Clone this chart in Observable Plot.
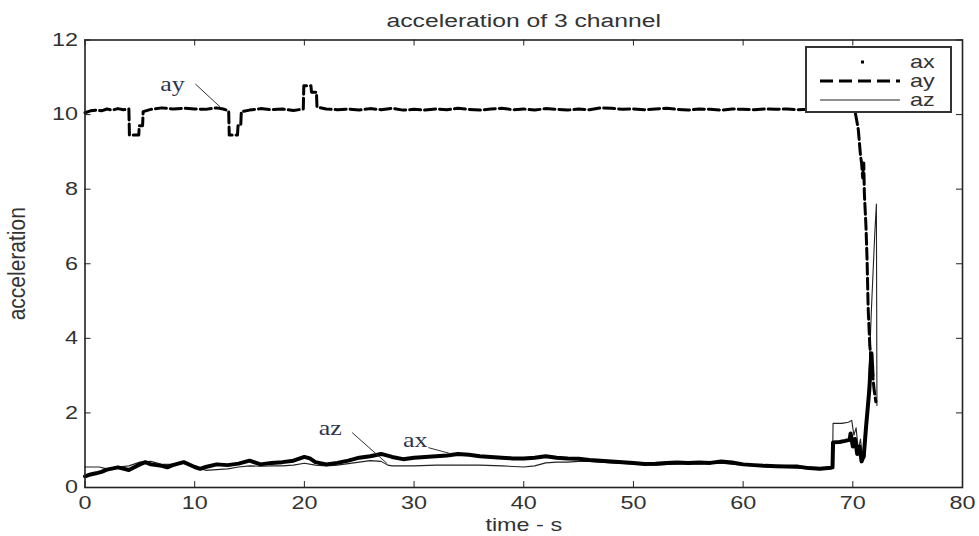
<!DOCTYPE html>
<html><head><meta charset="utf-8">
<script src="https://cdn.jsdelivr.net/npm/d3@7"></script>
<script src="https://cdn.jsdelivr.net/npm/@observablehq/plot@0.6"></script>
<style>
body{margin:0;background:#fff;}
#wrap{position:relative;width:979px;height:536px;}
#legend{position:absolute;left:805px;top:46px;width:143px;height:63px;border:2px solid #333;background:#fff;}
#legend svg{overflow:visible;display:block;}
</style>
</head><body><div id="wrap"></div>
<script>
const title = "acceleration of 3 channel";
const xLabel = "time - s";
const yLabel = "acceleration";
const xTicks = [0,10,20,30,40,50,60,70,80];
const yTicks = [0,2,4,6,8,10,12];
const xDomain = [0,80];
const yDomain = [0,12];
const seriesNames = ["ax","ay","az"];

const ax = [[0,0.30],[0.5,0.35],[1,0.38],[1.5,0.42],[2,0.48],[3,0.54],[4,0.47],[5,0.62],[5.5,0.68],[6,0.62],[7,0.58],[7.5,0.54],[8,0.60],[9,0.68],[10,0.55],[10.5,0.50],[11,0.55],[12,0.62],[13,0.60],[14,0.64],[15,0.72],[16,0.62],[17,0.66],[18,0.68],[19,0.72],[20,0.82],[20.5,0.78],[21,0.68],[22,0.62],[23,0.66],[24,0.72],[25,0.80],[26,0.84],[27,0.90],[28,0.82],[29,0.76],[30,0.80],[31,0.82],[32,0.84],[33,0.86],[34,0.90],[35,0.88],[36,0.84],[37,0.82],[38,0.80],[39,0.78],[40,0.78],[41,0.80],[42,0.84],[43,0.80],[44,0.78],[45,0.77],[46,0.74],[47,0.72],[48,0.70],[49,0.68],[50,0.66],[51,0.63],[52,0.64],[53,0.66],[54,0.67],[55,0.66],[56,0.67],[57,0.66],[58,0.70],[59,0.67],[60,0.62],[61,0.60],[62,0.58],[63,0.57],[64,0.56],[65,0.56],[66,0.52],[67,0.50],[68,0.53],[68.15,0.54],[68.2,1.21],[68.8,1.22],[69.3,1.25],[69.7,1.28],[69.8,1.45],[70.0,1.10],[70.2,1.30],[70.4,0.90],[70.6,1.10],[70.8,0.70],[71.0,0.85],[71.2,1.60],[71.5,2.60],[71.7,3.60],[71.8,3.00]];

const ay = [[0,10.05],[0.5,10.1],[1,10.12],[1.5,10.1],[2,10.15],[2.5,10.12],[3,10.16],[3.5,10.13],[4.0,10.15],[4.05,9.45],[4.9,9.45],[4.95,9.7],[5.25,9.7],[5.3,10.08],[6,10.14],[7,10.18],[8,10.15],[9,10.17],[10,10.15],[11,10.14],[12,10.18],[12.6,10.15],[13.1,10.1],[13.15,9.45],[13.9,9.45],[13.95,9.7],[14.2,9.7],[14.25,10.08],[15,10.12],[16,10.16],[17,10.13],[18,10.15],[19,10.11],[19.9,10.15],[19.95,10.77],[20.6,10.77],[20.65,10.6],[21.1,10.6],[21.15,10.2],[22,10.15],[23,10.13],[24,10.15],[25,10.12],[26,10.16],[27,10.13],[28,10.17],[29,10.12],[30,10.14],[31,10.12],[32,10.15],[33,10.13],[34,10.17],[35,10.14],[36,10.12],[37,10.15],[38,10.17],[39,10.13],[40,10.15],[41,10.12],[42,10.16],[43,10.14],[44,10.12],[45,10.15],[46,10.13],[47,10.18],[48,10.17],[49,10.14],[50,10.15],[51,10.13],[52,10.15],[53,10.17],[54,10.14],[55,10.12],[56,10.15],[57,10.14],[58,10.12],[59,10.15],[60,10.14],[61,10.13],[62,10.15],[63,10.14],[64,10.15],[65,10.13],[66,10.14],[67,10.15],[68,10.14],[69,10.15],[70,10.13],[70.2,10.1],[70.5,9.6],[70.7,8.9],[70.8,8.7],[70.9,8.3],[71.0,8.7],[71.05,7.9],[71.2,7.0],[71.3,6.1],[71.4,4.8],[71.55,3.8],[71.75,3.2],[71.95,2.6],[72.1,2.3]];

const az = [[0,0.55],[1.3,0.55],[2,0.50],[3,0.55],[4,0.58],[5,0.68],[6,0.70],[7,0.62],[8,0.62],[9,0.65],[10,0.55],[11,0.46],[12,0.48],[13,0.50],[14,0.55],[15,0.58],[16,0.57],[17,0.58],[18,0.58],[19,0.60],[20,0.65],[21,0.60],[22,0.58],[23,0.60],[24,0.64],[25,0.68],[26,0.72],[27,0.70],[27.6,0.60],[28,0.58],[30,0.58],[32,0.60],[34,0.60],[36,0.60],[38,0.58],[40,0.55],[41,0.58],[42,0.66],[43,0.68],[44,0.68],[45,0.70],[46,0.70],[47,0.68],[48,0.66],[50,0.63],[52,0.60],[54,0.63],[56,0.63],[58,0.65],[60,0.60],[62,0.56],[64,0.54],[66,0.50],[67,0.48],[68.15,0.54],[68.2,1.72],[69.0,1.72],[69.6,1.75],[69.9,1.80],[70.1,1.40],[70.3,1.60],[70.5,1.00],[70.7,1.30],[70.9,0.75],[71.1,0.80],[71.4,2.50],[71.7,4.80],[72.0,6.80],[72.15,7.60],[72.2,2.20]];

const annText = ["ay","az","ax"];
const annX = [7.97, 22.36, 30.1];
const annY = [10.8, 1.58, 1.26];
const ptrX1 = [10.06, 24.36, 31.3];
const ptrY1 = [10.82, 1.47, 1.07];
const ptrX2 = [12.34, 27.55, 33.3];
const ptrY2 = [10.2, 0.64, 0.91];

const toRows = arr => arr.map(([t, v]) => ({t, v}));
const idx = annText.map((_, i) => i);
const FONT = "Liberation Sans, Arial, sans-serif";
const SX = 1.3;

const chart = Plot.plot({
  width: 979, height: 536,
  marginLeft: 84.5, marginRight: 17, marginTop: 39.5, marginBottom: 49,
  style: {fontFamily: FONT, color: "#333", background: "#fff"},
  x: {domain: xDomain, ticks: xTicks, label: null},
  y: {domain: yDomain, ticks: yTicks, label: null},
  marks: [
    Plot.line(toRows(az), {x: "t", y: "v", stroke: "#222", strokeWidth: 1.1}),
    Plot.line(toRows(ax), {x: "t", y: "v", stroke: "#000", strokeWidth: 4, strokeLinejoin: "round"}),
    Plot.line(toRows(ay), {x: "t", y: "v", stroke: "#000", strokeWidth: 3, strokeDasharray: "11,4"}),
    Plot.link(idx, {x1: i => ptrX1[i], y1: i => ptrY1[i], x2: i => ptrX2[i], y2: i => ptrY2[i], stroke: "#333", strokeWidth: 1}),
    Plot.text(idx, {x: i => annX[i], y: i => annY[i], text: i => annText[i], fontFamily: "Liberation Serif, Times New Roman, serif", fontSize: 20, fill: "#2e3450"}),
    Plot.frame({stroke: "#222", strokeWidth: 1.6}),
    Plot.ruleX(xTicks, {x: d => d, y1: yDomain[0], y2: yDomain[0] + 0.16, stroke: "#222"}),
    Plot.ruleX(xTicks, {x: d => d, y1: yDomain[1], y2: yDomain[1] - 0.16, stroke: "#222"}),
    Plot.ruleY(yTicks, {y: d => d, x1: xDomain[0], x2: xDomain[0] + 0.55, stroke: "#222"}),
    Plot.ruleY(yTicks, {y: d => d, x1: xDomain[1], x2: xDomain[1] - 0.55, stroke: "#222"}),
    Plot.axisX({ticks: xTicks, tickSize: 0, tickPadding: 9, fontSize: 18, label: null, tickFormat: d => String(d)}),
    Plot.axisY({ticks: yTicks, tickSize: 0, tickPadding: 7, fontSize: 18, label: null, tickFormat: d => String(d)}),
    Plot.text([title], {frameAnchor: "top", lineAnchor: "middle", textAnchor: "middle", dy: -19, fontSize: 19, fill: "#333"}),
    Plot.text([xLabel], {frameAnchor: "bottom", lineAnchor: "middle", textAnchor: "middle", dy: 38, fontSize: 18, fill: "#333"}),
    Plot.text([yLabel], {frameAnchor: "left", lineAnchor: "middle", textAnchor: "middle", dx: -67, rotate: -90, fontSize: 21, fill: "#333"})
  ]
});

// horizontal stretch of glyphs, as in the reference image
d3.select(chart).selectAll("text").each(function() {
  const el = d3.select(this);
  let tr = el.attr("transform");
  if (!tr || tr.indexOf("translate") < 0) {
    const x = +el.attr("x") || 0, y = +el.attr("y") || 0;
    tr = `translate(${x},${y})` + (tr ? " " + tr : "");
    el.attr("x", null).attr("y", null);
  }
  const rotated = tr.indexOf("rotate") >= 0;
  el.attr("transform", tr + (rotated ? ` scale(1,1.1)` : ` scale(${SX},1)`));
});

const wrap = document.getElementById("wrap");
wrap.appendChild(chart);

// legend overlay
const legend = document.createElement("div");
legend.id = "legend";
wrap.appendChild(legend);
const lsvg = d3.select(legend).append("svg").attr("width", 143).attr("height", 63);
const rowY = [14, 33, 52];
const styles = [
  {dot: true},
  {stroke: "#000", width: 3, dash: "13,6"},
  {stroke: "#222", width: 1.1, dash: null}
];
seriesNames.forEach((name, i) => {
  const s = styles[i];
  if (s.dot) {
    lsvg.append("rect").attr("x", 54).attr("y", rowY[i] - 1.5).attr("width", 3).attr("height", 3).attr("fill", "#000");
  } else {
    lsvg.append("line").attr("x1", 13).attr("x2", 93).attr("y1", rowY[i]).attr("y2", rowY[i])
      .attr("stroke", s.stroke).attr("stroke-width", s.width).attr("stroke-dasharray", s.dash);
  }
  lsvg.append("text").attr("transform", `translate(103,${rowY[i]}) scale(${SX},1)`)
    .attr("dy", "0.35em").attr("font-family", FONT).attr("font-size", 18).attr("fill", "#333").text(name);
});
</script>
</body></html>
